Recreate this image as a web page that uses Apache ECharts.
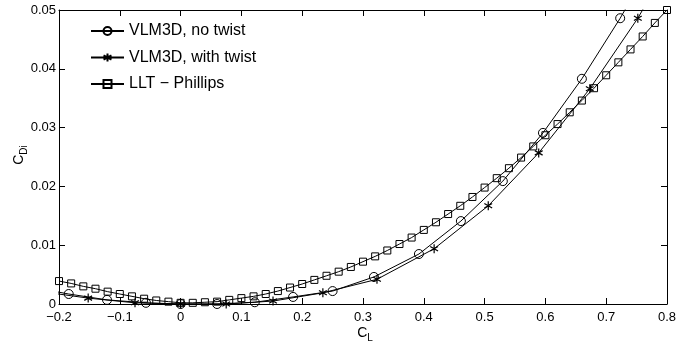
<!DOCTYPE html>
<html>
<head>
<meta charset="utf-8">
<script src="https://cdn.jsdelivr.net/npm/echarts@6/dist/echarts.min.js"></script>
<style>html,body{margin:0;padding:0;background:#fff}#c{width:695px;height:348px}</style>
</head>
<body>
<div id="c"></div>
<script>
// ---- data ----
var noTwistCL = [-0.247, -0.184, -0.121, -0.057, 0.000, 0.060, 0.122, 0.185, 0.250, 0.318, 0.392, 0.461, 0.530, 0.596, 0.660, 0.723, 0.789];
var noTwistCD = [0.0029, 0.0017, 0.0007, 0.0002, 0.0000, 0.0000, 0.0003, 0.0012, 0.0022, 0.0046, 0.0085, 0.0141, 0.0209, 0.0291, 0.0383, 0.0486, 0.0605];

var twistCL = [-0.229, -0.152, -0.075, 0.000, 0.075, 0.152, 0.234, 0.323, 0.417, 0.506, 0.589, 0.673, 0.752, 0.835];
var twistCD = [0.0021, 0.0010, 0.0002, 0.0000, 0.0000, 0.0005, 0.0019, 0.0042, 0.0094, 0.0167, 0.0257, 0.0366, 0.0486, 0.0635];

var lltCL = [-0.20, -0.18, -0.16, -0.14, -0.12, -0.10, -0.08, -0.06, -0.04, -0.02,
              0.00,  0.02,  0.04,  0.06,  0.08,  0.10,  0.12,  0.14,  0.16,  0.18,
              0.20,  0.22,  0.24,  0.26,  0.28,  0.30,  0.32,  0.34,  0.36,  0.38,
              0.40,  0.42,  0.44,  0.46,  0.48,  0.50,  0.52,  0.54,  0.56,  0.58,
              0.60,  0.62,  0.64,  0.66,  0.68,  0.70,  0.72,  0.74,  0.76,  0.78, 0.80];
var lltCD = [0.0039, 0.0035, 0.0030, 0.0026, 0.0021, 0.0017, 0.0013, 0.0009, 0.0006, 0.0004,
             0.0002, 0.0002, 0.0003, 0.0004, 0.0007, 0.0010, 0.0013, 0.0017, 0.0022, 0.0028,
             0.0034, 0.0041, 0.0048, 0.0055, 0.0063, 0.0072, 0.0081, 0.0091, 0.0102, 0.0113,
             0.0126, 0.0139, 0.0153, 0.0167, 0.0182, 0.0198, 0.0214, 0.0231, 0.0249, 0.0268,
             0.0287, 0.0306, 0.0326, 0.0346, 0.0367, 0.0389, 0.0411, 0.0433, 0.0455, 0.0478, 0.0500];

var seriesNames = ['VLM3D, no twist', 'VLM3D, with twist', 'LLT \u2212 Phillips'];
var xTitle = {main: 'C', sub: 'L'};
var yTitle = {main: 'C', sub: 'Di'};
var xTicks = {min: -0.2, max: 0.8, step: 0.1};
var yTicks = {min: 0, max: 0.05, step: 0.01};

function pairs(xs, ys) { return xs.map(function (x, i) { return [x, ys[i]]; }); }

var FONT = 'Liberation Sans, Arial, Helvetica, sans-serif';
var starPath = 'path://M5,0 L5,10 M0.67,2.5 L9.33,7.5 M0.67,7.5 L9.33,2.5';

function fmt(v) {
  var r = parseFloat(v.toFixed(3));
  var s = String(Math.abs(r));
  return (r < 0 ? '\u2212' : '') + s;
}

var titleRich = {
  c: {fontFamily: FONT, fontSize: 14, fill: '#000', lineHeight: 20, verticalAlign: 'middle'},
  s: {fontFamily: FONT, fontSize: 10, fill: '#000', lineHeight: 10, verticalAlign: 'bottom'}
};

var axisCommon = {
  axisLine: {show: true, onZero: false, lineStyle: {color: '#000', width: 1}},
  axisTick: {show: true, inside: true, length: 6, lineStyle: {color: '#000', width: 1}},
  splitLine: {show: false}
};

var chart = echarts.init(document.getElementById('c'), null, {renderer: 'canvas'});
chart.setOption({
  animation: false,
  backgroundColor: '#fff',
  grid: {left: 59, right: 28, top: 10, bottom: 44, containLabel: false, outerBoundsMode: 'none'},
  legend: {
    orient: 'vertical', left: 85, top: 18,
    itemWidth: 33, itemHeight: 10, itemGap: 10.5,
    textStyle: {fontFamily: FONT, fontSize: 16, color: '#000', lineHeight: 16},
    data: seriesNames
  },
  graphic: [
    {type: 'text', x: 365, y: 333, silent: true,
     style: {text: '{c|' + xTitle.main + '}{s|' + xTitle.sub + '}', rich: titleRich, align: 'center', verticalAlign: 'middle'}},
    {type: 'text', x: 19, y: 155, rotation: Math.PI / 2, silent: true,
     style: {text: '{c|' + yTitle.main + '}{s|' + yTitle.sub + '}', rich: titleRich, align: 'center', verticalAlign: 'middle'}}
  ],
  xAxis: [
    Object.assign({
      type: 'value', position: 'bottom', min: xTicks.min, max: xTicks.max, interval: xTicks.step,
      axisLabel: {formatter: fmt, fontFamily: FONT, fontSize: 13, color: '#000', margin: 7}
    }, axisCommon),
    Object.assign({
      type: 'value', position: 'top', min: xTicks.min, max: xTicks.max, interval: xTicks.step,
      axisLabel: {show: false}
    }, axisCommon)
  ],
  yAxis: [
    Object.assign({
      type: 'value', position: 'left', min: yTicks.min, max: yTicks.max, interval: yTicks.step,
      axisLabel: {formatter: fmt, fontFamily: FONT, fontSize: 13, color: '#000', margin: 3}
    }, axisCommon),
    Object.assign({
      type: 'value', position: 'right', min: yTicks.min, max: yTicks.max, interval: yTicks.step,
      axisLabel: {show: false}
    }, axisCommon)
  ],
  series: [
    {
      name: seriesNames[0], type: 'line', data: pairs(noTwistCL, noTwistCD),
      symbol: 'circle', symbolSize: 9, showAllSymbol: true,
      lineStyle: {color: '#000', width: 1},
      itemStyle: {color: 'rgba(0,0,0,0)', borderColor: '#000', borderWidth: 1},
      emphasis: {disabled: true}, z: 3
    },
    {
      name: seriesNames[1], type: 'line', data: pairs(twistCL, twistCD),
      symbol: starPath, symbolSize: 9, symbolKeepAspect: true, showAllSymbol: true,
      lineStyle: {color: '#000', width: 1},
      itemStyle: {color: 'rgba(0,0,0,0)', borderColor: '#000', borderWidth: 1.2},
      emphasis: {disabled: true}, z: 3
    },
    {
      name: seriesNames[2], type: 'line', data: pairs(lltCL, lltCD),
      symbol: 'rect', symbolSize: 7, showAllSymbol: true,
      lineStyle: {color: '#000', width: 1},
      itemStyle: {color: 'rgba(0,0,0,0)', borderColor: '#000', borderWidth: 1},
      emphasis: {disabled: true}, z: 3
    }
  ]
});
</script>
</body>
</html>
